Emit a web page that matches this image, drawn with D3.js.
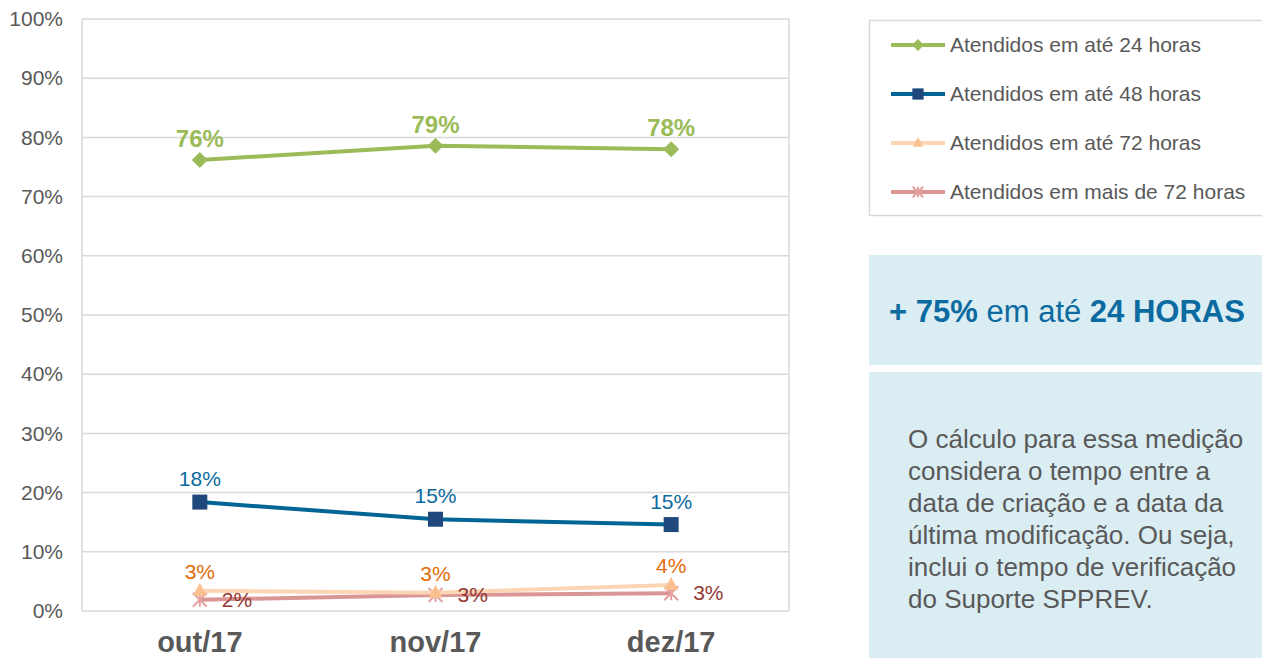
<!DOCTYPE html>
<html>
<head>
<meta charset="utf-8">
<script src="https://cdn.jsdelivr.net/npm/d3@7"></script>
<style>
  body { margin: 0; background: #fff; font-family: Arial, "Liberation Sans", sans-serif; }
</style>
</head>
<body>
<svg id="my_svg"></svg>
<script>
const width = 1262;
const height = 658;

// dados
const months = ['out/17', 'nov/17', 'dez/17'];
const seriesNames = ['Atendidos em até 24 horas', 'Atendidos em até 48 horas', 'Atendidos em até 72 horas', 'Atendidos em mais de 72 horas'];
const ate24 = [76.2, 78.6, 78.0];
const ate48 = [18.4, 15.5, 14.6];
const ate72 = [3.4, 3.1, 4.4];
const mais72 = [1.9, 2.7, 3.0];
const labels24 = ['76%', '79%', '78%'];
const labels48 = ['18%', '15%', '15%'];
const labels72 = ['3%', '3%', '4%'];
const labelsMais = ['2%', '3%', '3%'];
const yTicks = [0, 10, 20, 30, 40, 50, 60, 70, 80, 90, 100];

const svg = d3.select('#my_svg')
    .attr('width', width)
    .attr('height', height);

const plot = { left: 82, right: 789, top: 19, bottom: 611 };

const x = d3.scaleBand()
    .domain(months)
    .range([plot.left, plot.right]);

const y = d3.scaleLinear()
    .domain([0, 100])
    .range([plot.bottom, plot.top]);

// grade
svg.append('g')
    .selectAll('line')
    .data(yTicks)
    .enter().append('line')
    .attr('x1', plot.left)
    .attr('x2', plot.right)
    .attr('y1', d => y(d))
    .attr('y2', d => y(d))
    .attr('stroke', '#d9d9d9')
    .attr('stroke-width', 1.5);

svg.append('line')
    .attr('x1', plot.left).attr('x2', plot.left)
    .attr('y1', plot.top).attr('y2', plot.bottom)
    .attr('stroke', '#d9d9d9').attr('stroke-width', 1.5);
svg.append('line')
    .attr('x1', plot.right).attr('x2', plot.right)
    .attr('y1', plot.top).attr('y2', plot.bottom)
    .attr('stroke', '#d9d9d9').attr('stroke-width', 1.5);

// eixo y
const yAxis = svg.append('g')
    .attr('transform', `translate(${plot.left}, 0)`)
    .call(d3.axisLeft(y).tickValues(yTicks).tickFormat(d => d + '%').tickSize(0).tickPadding(19));
yAxis.select('.domain').remove();
yAxis.selectAll('text')
    .attr('fill', '#595959')
    .style('font-size', '21px')
    .style('font-family', 'Arial, "Liberation Sans", sans-serif');

// eixo x
const xAxis = svg.append('g')
    .attr('transform', `translate(0, ${plot.bottom})`)
    .call(d3.axisBottom(x).tickSize(0).tickPadding(20));
xAxis.select('.domain').remove();
xAxis.selectAll('text')
    .attr('fill', '#595959')
    .style('font-size', '29px')
    .style('font-weight', 'bold')
    .style('font-family', 'Arial, "Liberation Sans", sans-serif');

const cx = m => x(m) + x.bandwidth() / 2;

const series = [
    { name: seriesNames[0], values: ate24, labels: labels24, line: '#9bbb59', marker: '#9bbb59', symbol: 'diamond', textColor: '#9bbb59', bold: true, size: 24, pos: 'top', dy: -13 },
    { name: seriesNames[1], values: ate48, labels: labels48, line: '#006595', marker: '#1f497d', symbol: 'square', textColor: '#0b6aa0', bold: false, size: 21, pos: 'top', dy: -16 },
    { name: seriesNames[2], values: ate72, labels: labels72, line: '#fcd5b4', marker: '#fac090', symbol: 'triangle', textColor: '#e36c09', bold: false, size: 21, pos: 'top', dy: -12 },
    { name: seriesNames[3], values: mais72, labels: labelsMais, line: '#d99694', marker: '#e6a0a0', symbol: 'star', textColor: '#953735', bold: false, size: 21, pos: 'right', dy: 0 }
];

const lineGen = d3.line()
    .x(d => cx(d.m))
    .y(d => y(d.v));

function drawMarker(g, s, px, py, scale) {
    const k = scale || 1;
    if (s.symbol === 'diamond') {
        g.append('path')
            .attr('d', `M${px},${py - 8 * k}L${px + 8 * k},${py}L${px},${py + 8 * k}L${px - 8 * k},${py}Z`)
            .attr('fill', s.marker);
    } else if (s.symbol === 'square') {
        g.append('rect')
            .attr('x', px - 7.5 * k).attr('y', py - 7.5 * k)
            .attr('width', 15 * k).attr('height', 15 * k)
            .attr('fill', s.marker);
    } else if (s.symbol === 'triangle') {
        g.append('path')
            .attr('d', `M${px},${py - 8 * k}L${px + 7 * k},${py + 5 * k}L${px - 7 * k},${py + 5 * k}Z`)
            .attr('fill', s.marker);
    } else {
        const r = 7 * k;
        g.append('path')
            .attr('d', `M${px - r},${py - r}L${px + r},${py + r}M${px - r},${py + r}L${px + r},${py - r}M${px},${py - r}L${px},${py + r}`)
            .attr('stroke', s.marker)
            .attr('stroke-width', 2)
            .attr('fill', 'none');
    }
}

// linhas (de baixo para cima)
for (const s of series.slice().reverse()) {
    const pts = months.map((m, i) => ({ m: m, v: s.values[i] }));
    const g = svg.append('g');
    g.append('path')
        .datum(pts)
        .attr('d', lineGen)
        .attr('fill', 'none')
        .attr('stroke', s.line)
        .attr('stroke-width', 4);
    pts.forEach(p => drawMarker(g, s, cx(p.m), y(p.v)));
}

// rótulos
for (const s of series) {
    svg.append('g')
        .selectAll('text')
        .data(months)
        .enter().append('text')
        .attr('x', m => s.pos === 'right' ? cx(m) + 22 : cx(m))
        .attr('y', (m, i) => s.pos === 'right' ? y(s.values[i]) + 7 : y(s.values[i]) + s.dy)
        .attr('text-anchor', s.pos === 'right' ? 'start' : 'middle')
        .attr('fill', s.textColor)
        .style('font-size', s.size + 'px')
        .style('font-weight', s.bold ? 'bold' : 'normal')
        .text((m, i) => s.labels[i]);
}

// legenda
const legend = svg.append('g');
legend.append('rect')
    .attr('x', 869.5).attr('y', 20.5)
    .attr('width', 400).attr('height', 195)
    .attr('fill', '#fff')
    .attr('stroke', '#d9d9d9')
    .attr('stroke-width', 1.5);

series.forEach((s, i) => {
    const ly = 45 + i * 49;
    const row = legend.append('g');
    row.append('line')
        .attr('x1', 891).attr('x2', 945)
        .attr('y1', ly).attr('y2', ly)
        .attr('stroke', s.line)
        .attr('stroke-width', 4);
    drawMarker(row, s, 918, ly, 0.75);
    row.append('text')
        .attr('x', 950).attr('y', ly + 7)
        .attr('fill', '#595959')
        .style('font-size', '21px')
        .text(s.name);
});

// caixas de destaque
svg.append('rect')
    .attr('x', 869).attr('y', 255)
    .attr('width', 393).attr('height', 110)
    .attr('fill', '#daedf3');

const highlight = svg.append('text')
    .attr('x', 1067).attr('y', 322)
    .attr('text-anchor', 'middle')
    .attr('fill', '#0b6aa0')
    .style('font-size', '31px');
highlight.append('tspan').style('font-weight', 'bold').text('+ 75%');
highlight.append('tspan').text(' em até ');
highlight.append('tspan').style('font-weight', 'bold').text('24 HORAS');

svg.append('rect')
    .attr('x', 869).attr('y', 372)
    .attr('width', 393).attr('height', 286)
    .attr('fill', '#daedf3');

const noteLines = [
    'O cálculo para essa medição',
    'considera o tempo entre a',
    'data de criação e a data da',
    'última modificação. Ou seja,',
    'inclui o tempo de verificação',
    'do Suporte SPPREV.'
];
svg.append('g')
    .selectAll('text')
    .data(noteLines)
    .enter().append('text')
    .attr('x', 908)
    .attr('y', (d, i) => 448 + i * 32)
    .attr('fill', '#595959')
    .style('font-size', '26px')
    .text(d => d);
</script>
</body>
</html>
